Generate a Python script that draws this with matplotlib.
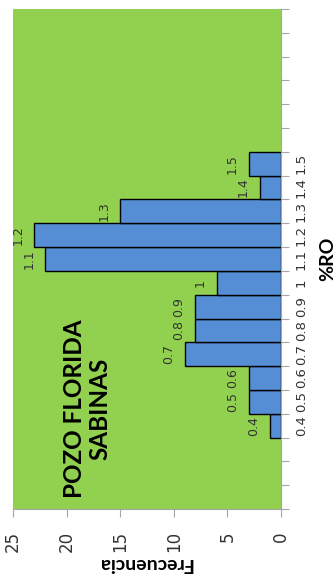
import numpy as np
import matplotlib
matplotlib.use("Agg")
import matplotlib.pyplot as plt

# histogram of vitrinite reflectance, drawn rotated 90 degrees like the source image
ro_labels = ['0.4', '0.5', '0.6', '0.7', '0.8', '0.9', '1',
             '1.1', '1.2', '1.3', '1.4', '1.5']
frecuencia = [1, 3, 3, 9, 8, 8, 6, 22, 23, 15, 2, 3]
n_empty_before = 3
n_empty_after = 6
freq_ticks = [0, 5, 10, 15, 20, 25]

n_slots = n_empty_before + len(ro_labels) + n_empty_after
pos = np.arange(len(ro_labels)) + n_empty_before + 0.5

fig = plt.figure(figsize=(3.36, 5.80), dpi=100)
ax = fig.add_axes([13 / 336, 71 / 580, 268 / 336, 500 / 580])
ax.set_facecolor('#92D050')

ax.barh(pos, frecuencia, height=1.0, color='#558ED5', edgecolor='black', linewidth=1.0)

for p, v, lab in zip(pos, frecuencia, ro_labels):
    ax.annotate(lab, xy=(v, p), xytext=(-7, 0), textcoords='offset points',
                rotation=90, ha='right', va='center', fontsize=9, color='#333333')

ax.set_xlim(25, 0)
ax.set_ylim(0, n_slots)

# frequency axis (bottom in the rotated picture)
ax.set_xticks(freq_ticks)
ax.set_xticklabels([str(t) for t in freq_ticks], rotation=90, fontsize=12, color='#333333')
ax.tick_params(axis='x', direction='out', length=6, color='#a6a6a6', pad=10)

# %RO axis (right in the rotated picture)
ax.yaxis.tick_right()
ax.set_yticks(np.arange(0, n_slots + 1))
ax.set_yticklabels([])
ax.set_yticks(pos, minor=True)
ax.set_yticklabels(ro_labels, minor=True, rotation=90, fontsize=9.5, color='#333333', va='center')
ax.tick_params(axis='y', which='major', direction='out', length=6, color='#a6a6a6')
ax.tick_params(axis='y', which='minor', length=0, pad=10)

for s in ['left', 'top']:
    ax.spines[s].set_visible(False)
for s in ['right', 'bottom']:
    ax.spines[s].set_color('#a6a6a6')

ax.text(0.276, 0.2, 'POZO FLORIDA\nSABINAS', transform=ax.transAxes, rotation=90,
        ha='center', va='center', multialignment='center', fontsize=17.5,
        fontweight='bold', family='Lato', linespacing=1.15)

fig.text(145 / 336, 1 - 563 / 580, 'Frecuencia', rotation=180, ha='center', va='center',
         fontsize=14, fontweight='bold', family='Lato')
fig.text(328 / 336, 1 - 259 / 580, '%RO', rotation=90, ha='center', va='center',
         fontsize=14, fontweight='bold', family='Lato')

fig.savefig('out.png', dpi=100)
